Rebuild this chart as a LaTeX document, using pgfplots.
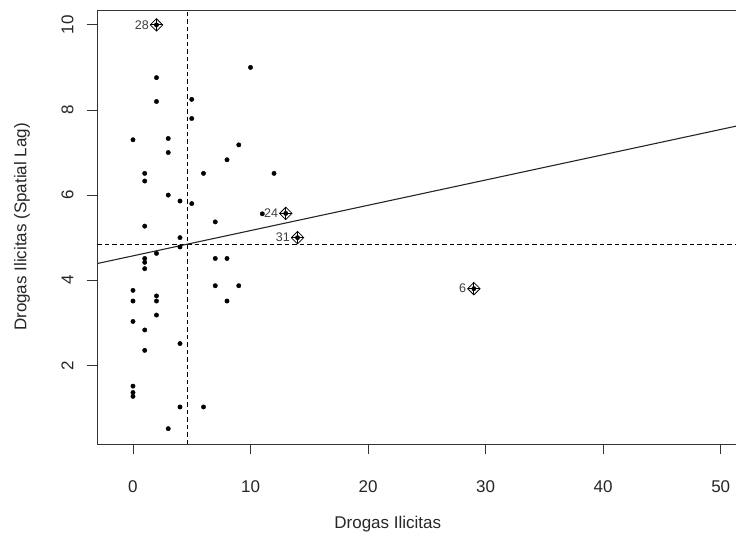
\documentclass[border=0pt]{standalone}
\usepackage{pgfplots}
\pgfplotsset{compat=1.18}
\usepackage{fontspec}
\setmainfont{Liberation Sans}
\begin{document}
\begin{tikzpicture}
\useasboundingbox (0,0) rectangle (736pt,536pt);
\begin{axis}[
  at={(97pt,92pt)}, anchor=south west,
  scale only axis, width=639pt, height=434pt,
  xmin=-3.06, xmax=51.3, ymin=0.15, ymax=10.35,
  axis x line=box, axis y line=left,
  axis line style={-, line width=0.9pt, color=black!80},
  xtick={0,10,20,30,40,50}, ytick={2,4,6,8,10},
  xtick pos=bottom, ytick pos=left,
  tick align=outside, major tick length=10pt,
  tick style={line width=0.9pt, color=black!80},
  /pgf/number format/assume math mode=true,
  ticklabel style={font=\fontsize{17}{20}\selectfont, color=black!85},
  yticklabel style={rotate=90, anchor=south},
  xticklabel shift=23pt, yticklabel shift=10pt,
  xlabel={Drogas Ilicitas}, ylabel={Drogas Ilicitas (Spatial Lag)},
  label style={font=\fontsize{17}{20}\selectfont, color=black!85},
  xlabel style={at={(axis description cs:0.455,0)}, anchor=center, yshift=-80pt},
  ylabel style={at={(axis description cs:0,0.5)}, anchor=center, yshift=75pt},
  clip=true,
]
% dashed mean lines
\addplot[black, line width=0.9pt, dash pattern=on 4.5pt off 3pt] coordinates {(4.63,0.15) (4.63,10.35)};
\addplot[black, line width=0.9pt, dash pattern=on 4.5pt off 3pt] coordinates {(-3.06,4.84) (51.3,4.84)};
% regression line
\addplot[black!85, line width=1.1pt] coordinates {(-3.06,4.39) (51.3,7.62)};
% points
\addplot[only marks, mark=*, mark size=2.2pt, black] coordinates {
(2,10.0) (2,8.76) (2,8.2) (10,9.0) (5,8.25) (5,7.8) (0,7.3) (3,7.33) (3,7.0)
(9,7.18) (8,6.83) (1,6.51) (1,6.33) (6,6.51) (12,6.51) (3,6.0) (4,5.86) (5,5.8)
(1,5.27) (7,5.37) (11,5.56) (13,5.57) (14,5.0) (4,5.0) (4,4.78) (2,4.63)
(1,4.51) (1,4.42) (1,4.27) (7,4.51) (8,4.51) (0,3.76) (0,3.51) (2,3.63) (2,3.51)
(7,3.87) (9,3.87) (8,3.51) (0,3.03) (2,3.18) (1,2.83) (1,2.35) (4,2.51)
(0,1.51) (0,1.36) (0,1.27) (4,1.02) (6,1.02) (3,0.51) (29,3.8)
};
% influential points
\addplot[only marks, mark=square, mark size=4.4pt, mark options={rotate=45, line width=0.8pt}, black,
  point meta=explicit symbolic, nodes near coords,
  nodes near coords style={anchor=east, xshift=-4pt, font=\fontsize{12.5}{14}\selectfont, color=black!75}]
  coordinates {(2,10.0)[28] (13,5.57)[24] (14,5.0)[31] (29,3.8)[6]};
\addplot[only marks, mark=+, mark size=6.2pt, mark options={line width=0.8pt}, black]
  coordinates {(2,10.0) (13,5.57) (14,5.0) (29,3.8)};
\end{axis}
\end{tikzpicture}
\end{document}
